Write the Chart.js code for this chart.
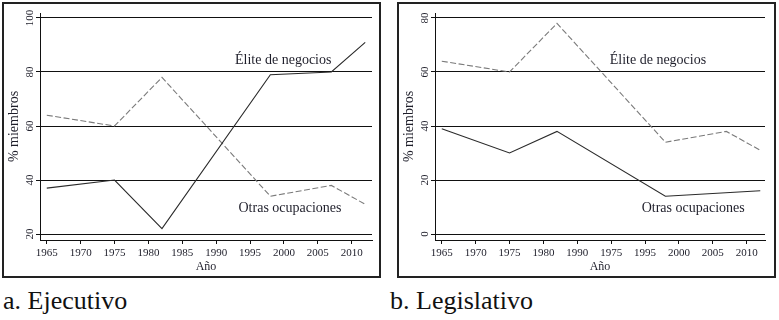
<!DOCTYPE html>
<html><head><meta charset="utf-8">
<script src="https://cdn.jsdelivr.net/npm/chart.js@4/dist/chart.umd.min.js"></script>
<style>
body{margin:0;background:#fff;width:779px;height:320px;position:relative;overflow:hidden;font-family:'Liberation Serif','Times New Roman',serif;}
.panel{position:absolute;top:2px;width:379px;height:276px;border:2px solid #222;box-sizing:border-box;background:#fff;}
.panel canvas{display:block}
#pa{left:2px}
#pb{left:397px}
.cap{position:absolute;top:288px;font-family:'Liberation Serif','Times New Roman',serif;font-size:26px;line-height:26px;color:#111;white-space:nowrap;}
</style></head><body>
<div class="panel" id="pa"><canvas id="ca" width="375" height="272"></canvas></div>
<div class="panel" id="pb"><canvas id="cb" width="375" height="272"></canvas></div>
<div class="cap" style="left:3px">a. Ejecutivo</div>
<div class="cap" style="left:390px">b. Legislativo</div>
<script>
// ---- data ----
const years = [1965, 1975, 1982, 1998, 2007, 2012];
const ejecSolid = [37, 40, 22, 79, 80, 91];
const ejecDashed = [64, 60, 78, 34, 38, 31];
const legisSolidYears = [1965, 1975, 1982, 1998, 2012];
const legisSolid = [39, 30, 38, 14, 16];
const legisDashed = [64, 60, 78, 34, 38, 31];
const xTickValues = [1965, 1970, 1975, 1980, 1985, 1990, 1995, 2000, 2005, 2010];
const ejecXLabels = ['1965','1970','1975','1980','1985','1990','1995','2000','2005','2010'];
const legisXLabels = ['1965','1970','1975','1980','1990','1975','1995','2000','2005','2010'];
const ejecYTicks = [20, 40, 60, 80, 100];
const legisYTicks = [0, 20, 40, 60, 80];
const labelElite = 'Élite de negocios';
const labelOtras = 'Otras ocupaciones';
const xTitle = 'Año';
const yTitle = '% miembros';

const FONT = "'Liberation Serif', 'Times New Roman', serif";
const INK = '#1e1e2a';
Chart.defaults.font.family = FONT;

const textPlugin = {
  id: 'seriesText',
  afterDatasetsDraw(chart, args, opts) {
    const ctx = chart.ctx, xs = chart.scales.x, ys = chart.scales.y;
    ctx.save();
    ctx.font = opts.size + 'px ' + FONT;
    ctx.fillStyle = INK;
    ctx.textAlign = 'center';
    ctx.textBaseline = 'middle';
    opts.items.forEach(it => {
      ctx.fillText(it.text, xs.getPixelForValue(it.x), ys.getPixelForValue(it.y));
    });
    ctx.restore();
  }
};

function pts(xv, yv) { return xv.map((x, i) => ({x: x, y: yv[i]})); }

function makeChart(id, solidX, solid, dashed, xLabels, yTicks, yMin, yMax, xMax, rightPad, yTickPad, labels) {
  return new Chart(document.getElementById(id), {
    type: 'line',
    data: {
      datasets: [
        {data: pts(solidX, solid), borderColor: '#2a2a2a', borderWidth: 1.1, pointRadius: 0, tension: 0, fill: false},
        {data: pts(years, dashed), borderColor: '#7a7a7a', borderWidth: 1.1, borderDash: [6, 2.5], pointRadius: 0, tension: 0, fill: false}
      ]
    },
    options: {
      responsive: false, animation: false, devicePixelRatio: 1,
      layout: {padding: {top: 9, right: rightPad, left: 0, bottom: 0}},
      plugins: {legend: {display: false}, tooltip: {enabled: false},
        seriesText: {size: 14, items: labels}},
      scales: {
        x: {
          type: 'linear', min: 1964, max: xMax,
          afterBuildTicks: s => { s.ticks = xTickValues.map(v => ({value: v})); },
          afterFit: s => { s.height = 36; },
          grid: {drawOnChartArea: false, drawTicks: true, tickLength: 4, color: '#111', lineWidth: 1},
          border: {display: true, color: '#111', width: 1},
          ticks: {autoSkip: false, maxRotation: 0, minRotation: 0, padding: 3, color: INK,
            font: {family: FONT, size: 11},
            callback: (v, i) => xLabels[i]},
          title: {display: true, text: xTitle, color: INK, font: {family: FONT, size: 12}, padding: {top: 0, bottom: 2}}
        },
        y: {
          type: 'linear', min: yMin, max: yMax,
          afterBuildTicks: s => { s.ticks = yTicks.map(v => ({value: v})); },
          afterFit: s => { s.width = 36; },
          grid: {drawOnChartArea: true, drawTicks: true, tickLength: 4, color: '#111', lineWidth: 1},
          border: {display: true, color: '#111', width: 1},
          ticks: {autoSkip: false, minRotation: 90, maxRotation: 90, crossAlign: 'center', padding: yTickPad, color: INK,
            font: {family: FONT, size: 11}},
          title: {display: true, text: yTitle, color: INK, font: {family: FONT, size: 14}, padding: {top: 2, bottom: 0}}
        }
      }
    },
    plugins: [textPlugin]
  });
}

function draw() {
  makeChart('ca', years, ejecSolid, ejecDashed, ejecXLabels, ejecYTicks, 17.78, 101.85, 2013, 7, -2, [
    {text: labelElite, x: 1999.9, y: 84.4},
    {text: labelOtras, x: 2000.9, y: 29.6}
  ]);
  makeChart('cb', legisSolidYears, legisSolid, legisDashed, legisXLabels, legisYTicks, -2.22, 81.85, 2012.7, 9, 0, [
    {text: labelElite, x: 1996.9, y: 64.4},
    {text: labelOtras, x: 2002.1, y: 9.6}
  ]);
}
if (document.fonts && document.fonts.load) {
  Promise.all([document.fonts.load("11px 'Liberation Serif'"), document.fonts.load("14px 'Liberation Serif'")])
    .then(draw, draw);
} else { draw(); }
</script>
</body></html>
